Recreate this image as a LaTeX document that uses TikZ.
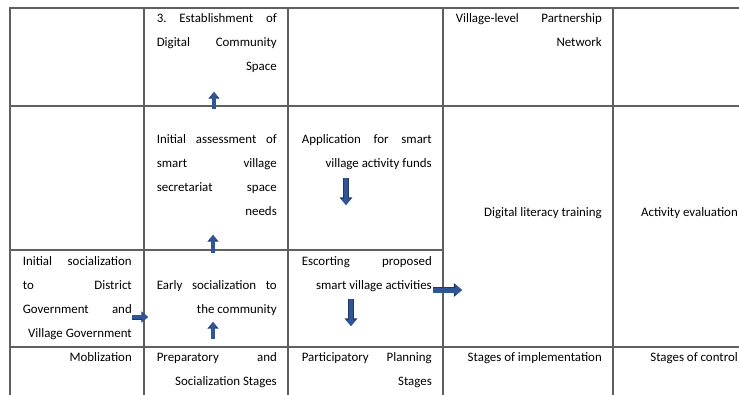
\documentclass[tikz,border=0pt]{standalone}
\usepackage{fontspec}
\setmainfont{Carlito}
\usetikzlibrary{arrows.meta}

\definecolor{arrowblue}{RGB}{47,85,151}
\definecolor{arrowedge}{RGB}{31,56,100}
\definecolor{rulegray}{RGB}{95,95,95}

\tikzset{
  cell/.style={inner sep=0pt, anchor=base east, text width=#1, align=flush right,
    font=\fontsize{12.9}{24}\selectfont},
  rule/.style={draw=rulegray, line width=1.2pt, line cap=rect},
  blkarrow/.style={draw=arrowblue, line width=#1,
    -{Triangle[width=0pt 2.2,length=0pt 1.35]},
    preaction={draw=arrowedge, line width=#1+1pt, -{Triangle[width=0pt 2.2,length=0pt 1.35]}}}
}

\begin{document}
\begin{tikzpicture}[x=1pt,y=-1pt]
            \path[use as bounding box, clip] (0,0) rectangle (739,394);
            \draw[rule] (10,8) -- (739,8) (10,106) -- (739,106)
                        (10,250) -- (443,250) (10,347) -- (739,347);
            \foreach \x in {10,144,288,443,613}
                \draw[rule] (\x,8) -- (\x,394);

            \node[cell=120pt] (estab) at (277,22) {3.\hfill Establishment\hfill of\\ Digital\hfill Community\\ Space};
            \node[cell=120pt] (assess) at (277,143) {Initial\hfill assessment\hfill of\\ smart\hfill village\\ secretariat\hfill space\\ needs};
            \node[cell=120pt] (early) at (277,289) {Early\hfill socialization\hfill to\\ the community};
            \node[cell=120pt] (prep) at (277,361) {Preparatory\hfill and\\ Socialization Stages};

            \node[cell=109pt] (initsoc) at (132,265) {Initial\hfill socialization\\ to\hfill District\\ Government\hfill and\\ Village Government};
            \node[cell=109pt] (mobil) at (132,361) {Moblization};

            \node[cell=130pt] (appl) at (432,143) {Application\hfill for\hfill smart\\ village activity funds};
            \node[cell=130pt] (escort) at (432,265) {Escorting\hfill proposed\\ smart village activities};
            \node[cell=130pt] (partic) at (432,361) {Participatory\hfill Planning\\ Stages};

            \node[cell=146pt] (network) at (602,22) {Village-level\hfill Partnership\\ Network};
            \node[cell=146pt] (literacy) at (602,216) {Digital literacy training};
            \node[cell=146pt] (implem) at (602,361) {Stages of implementation};

            \node[cell=112pt] (evalu) at (738,216) {Activity evaluation};
            \node[cell=112pt] (control) at (738,361) {Stages of control};

            \coordinate (upA0) at (214,109);  \coordinate (upA1) at (214,92);
            \coordinate (upB0) at (213,253);  \coordinate (upB1) at (213,235);
            \coordinate (upC0) at (213,339);  \coordinate (upC1) at (213,322);
            \coordinate (dnA0) at (346,178);  \coordinate (dnA1) at (346,205);
            \coordinate (dnB0) at (351,299);  \coordinate (dnB1) at (351,326);
            \coordinate (rtA0) at (132,317);  \coordinate (rtA1) at (148,317);
            \coordinate (rtB0) at (433,290);  \coordinate (rtB1) at (462,290);

            \draw[blkarrow=3.9pt] (upA0) -- (upA1);
            \draw[blkarrow=3.9pt] (upB0) -- (upB1);
            \draw[blkarrow=3.9pt] (upC0) -- (upC1);
            \draw[blkarrow=4.6pt] (dnA0) -- (dnA1);
            \draw[blkarrow=4.6pt] (dnB0) -- (dnB1);
            \draw[blkarrow=4pt] (rtA0) -- (rtA1);
            \draw[blkarrow=5pt] (rtB0) -- (rtB1);
\end{tikzpicture}
\end{document}
